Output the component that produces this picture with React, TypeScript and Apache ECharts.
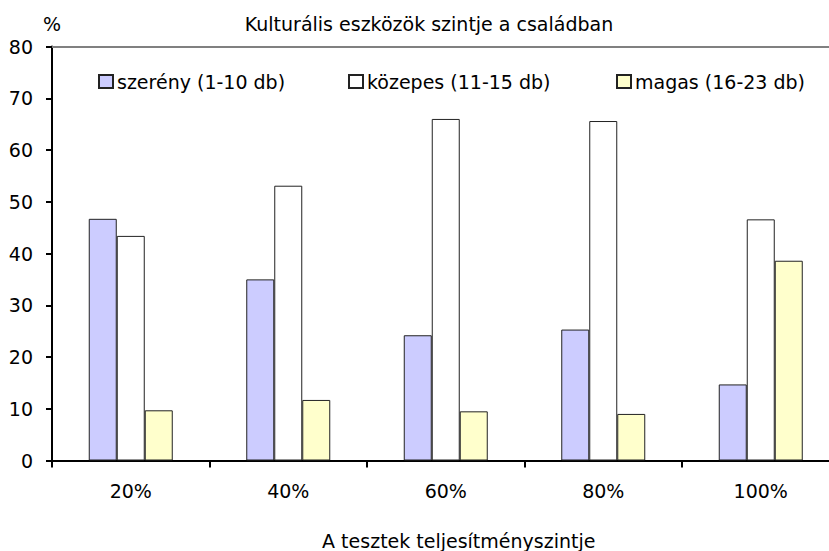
import React, { useEffect, useRef } from "react";
import * as echarts from "echarts";

const categories = ["20%", "40%", "60%", "80%", "100%"];
const seriesNames = ["szerény (1-10 db)", "közepes (11-15 db)", "magas (16-23 db)"];
const szereny = [46.7, 35.0, 24.2, 25.3, 14.7];
const kozepes = [43.4, 53.1, 66.0, 65.6, 46.6];
const magas = [9.7, 11.7, 9.5, 9.0, 38.6];
const yTicks = { min: 0, max: 80, interval: 10 };
const titleText = "Kulturális eszközök szintje a családban";
const xAxisName = "A tesztek teljesítményszintje";
const yAxisUnit = "%";

const FONT = "DejaVu Sans";
const FS = 19;

export default function App() {
  const ref = useRef<HTMLDivElement>(null);
  useEffect(() => {
    if (!ref.current) return;
    const chart = echarts.init(ref.current, null, { renderer: "svg" });
    const colors = ["#CCCCFF", "#FFFFFF", "#FFFFCC"];
    const values = [szereny, kozepes, magas];
    const legendLefts = [93, 343, 611];
    chart.setOption({
      animation: false,
      backgroundColor: "#ffffff",
      textStyle: { fontFamily: FONT, fontSize: FS, color: "#000" },
      title: [
        {
          text: titleText,
          left: 424,
          textAlign: "center",
          top: 9,
          textStyle: { fontFamily: FONT, fontSize: FS, fontWeight: "normal", color: "#000" },
        },
        {
          text: yAxisUnit,
          left: 47,
          textAlign: "center",
          top: 9,
          textStyle: { fontFamily: FONT, fontSize: FS, fontWeight: "normal", color: "#000" },
        },
      ],
      legend: seriesNames.map((n, i) => ({
        data: [n],
        left: legendLefts[i],
        top: 67,
        itemWidth: 14,
        itemHeight: 13,
        itemGap: 5,
        icon: "rect",
        textStyle: { fontFamily: FONT, fontSize: FS, color: "#000", padding: [0, 0, 0, -1] },
      })),
      grid: {
        left: 52,
        top: 46.5,
        width: 787.5,
        bottom: 90.5,
        containLabel: false,
        outerBoundsMode: "none",
      },
      xAxis: [
        {
          type: "category",
          data: categories,
          position: "bottom",
          axisLine: { lineStyle: { color: "#000", width: 2 } },
          axisTick: { show: true, length: 7, lineStyle: { color: "#000", width: 2 } },
          axisLabel: { fontFamily: FONT, fontSize: FS, color: "#000", margin: 21 },
          name: xAxisName,
          nameLocation: "middle",
          nameGap: 71,
          nameTextStyle: {
            fontFamily: FONT,
            fontSize: FS,
            color: "#000",
            padding: [0, 0, 0, 26],
          },
        },
        {
          type: "category",
          data: categories,
          position: "top",
          axisLine: { lineStyle: { color: "#808080", width: 2 } },
          axisTick: { show: false },
          axisLabel: { show: false },
        },
      ],
      yAxis: {
        type: "value",
        min: yTicks.min,
        max: yTicks.max,
        interval: yTicks.interval,
        axisLine: { show: true, lineStyle: { color: "#000", width: 2 } },
        axisTick: { show: true, length: 6, lineStyle: { color: "#000", width: 2 } },
        axisLabel: { fontFamily: FONT, fontSize: FS, color: "#000", margin: 19 },
        splitLine: { show: false },
      },
      series: seriesNames.map((n, i) => ({
        name: n,
        type: "bar",
        data: values[i],
        barWidth: 28,
        barGap: "0%",
        itemStyle: { color: colors[i], borderColor: "#222", borderWidth: 1 },
      })),
    });
    return () => chart.dispose();
  }, []);
  return (
    <div
      ref={ref}
      style={{ position: "fixed", left: 0, top: 0, width: 829, height: 551 }}
    />
  );
}
